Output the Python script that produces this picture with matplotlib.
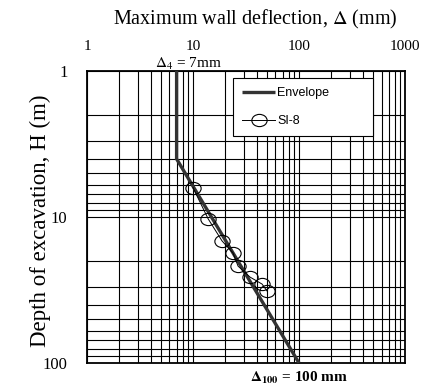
import numpy as np
import matplotlib
matplotlib.use('Agg')
import matplotlib.pyplot as plt
from matplotlib.path import Path

plt.rcParams['font.family'] = ['Liberation Serif', 'DejaVu Serif']
plt.rcParams['mathtext.fontset'] = 'stix'

# envelope: constant 7 mm down to H = 4 m, then straight (log-log) to 100 mm at 100 m
env_delta = [7, 7, 100]
env_depth = [1, 4, 100]

# inclinometer SI-8 readings
si8_delta = [10.0, 13.9, 18.8, 23.8, 26.6, 34.5, 44.8, 49.9]
si8_depth = [6.3, 10.3, 14.6, 17.6, 21.7, 25.8, 28.8, 32.1]

x_ticks = [1, 10, 100, 1000]
y_ticks = [1, 10, 100]

# slightly flattened circle marker
uc = Path.unit_circle()
ellipse = Path(uc.vertices * np.array([1.0, 0.8]), uc.codes)

fig = plt.figure(figsize=(4.28, 3.92), dpi=100)
ax = fig.add_axes([0.2033, 0.074, 0.7430, 0.7449])

ax.set_xscale('log')
ax.set_yscale('log')
ax.set_xlim(1, 1000)
ax.set_ylim(100, 1)

# full grid on every decade sub-division
for dec in [1, 10, 100]:
    for k in range(1, 10):
        ax.axvline(dec * k, color='black', lw=0.8, zorder=1)
for dec in [1, 10]:
    for k in range(1, 10):
        ax.axhline(dec * k, color='black', lw=0.8, zorder=1)

ax.plot(env_delta, env_depth, color='#333333', lw=2.4, zorder=3,
        solid_capstyle='butt', label='Envelope')
ax.plot(si8_delta, si8_depth, color='black', lw=0.7, marker=ellipse,
        markersize=11, markerfacecolor='none', markeredgecolor='black',
        markeredgewidth=0.8, zorder=4, label='SI-8')

ax.xaxis.tick_top()
ax.set_xticks(x_ticks)
ax.set_xticklabels([str(v) for v in x_ticks])
ax.set_yticks(y_ticks)
ax.set_yticklabels([str(v) for v in y_ticks])
ax.minorticks_off()
ax.tick_params(axis='both', length=0)
ax.tick_params(axis='x', labelsize=11, pad=13)
ax.tick_params(axis='y', labelsize=12, pad=14)

for sp in ax.spines.values():
    sp.set_linewidth(1.3)

ax.xaxis.set_label_position('top')
ax.set_xlabel('Maximum wall deflection, $\\Delta$ (mm)', fontsize=14.5)
ax.xaxis.set_label_coords(0.528, 1.175)
ax.xaxis.label.set_va('center')
ax.set_ylabel('Depth of excavation, H (m)', fontsize=16.5)
ax.yaxis.set_label_coords(-0.145, 0.486)
ax.yaxis.label.set_va('center')

ax.text(4.4, 1.012, '$\\Delta_4$ = 7mm', fontsize=11, ha='left', va='baseline',
        transform=ax.get_xaxis_transform())
ax.text(100, -0.052, '$\\mathbf{\\Delta_{100}}$ = 100 mm', fontsize=11,
        fontweight='bold', ha='center', va='center',
        transform=ax.get_xaxis_transform())

leg = ax.legend(loc='upper left', bbox_to_anchor=(0.459, 0.777, 0.44, 0.199),
                mode='expand', borderaxespad=0, frameon=True, fancybox=False,
                shadow=False, prop={'family': 'Liberation Sans', 'size': 9},
                handlelength=2.6, labelspacing=1.25, borderpad=0.75,
                handletextpad=0.2)
leg.get_frame().set_edgecolor('black')
leg.get_frame().set_linewidth(0.8)
leg.get_frame().set_alpha(1)
leg.set_zorder(6)

fig.savefig('out.png', dpi=100)
